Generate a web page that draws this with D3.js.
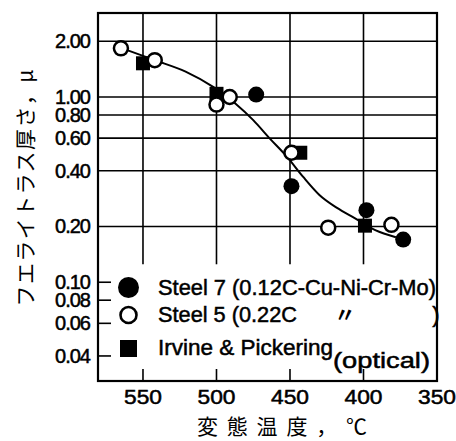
<!DOCTYPE html>
<html>
<meta charset="utf-8">
<style>
body { margin: 0; background: #fff; }
svg { display: block; }
.tick-label { font-family: 'Liberation Sans', Arial, sans-serif; font-size: 20px; fill: #000; stroke: #000; stroke-width: 0.5px; }
.legend-text { font-family: 'Liberation Sans', Arial, sans-serif; font-size: 22px; fill: #000; stroke: #000; stroke-width: 0.5px; }
.jp { font-family: 'Noto Sans CJK JP', sans-serif; font-size: 21px; fill: #000; }
</style>
<body>
<svg width="456" height="441"></svg>
<script src="https://d3js.org/d3.v7.min.js"></script>
<script>

// data: [temperature °C, lath thickness μ]
var tempTicks = [550, 500, 450, 400, 350];
var thickTicks = [2.00, 1.00, 0.80, 0.60, 0.40, 0.20, 0.10, 0.08, 0.06, 0.04];
var fullGrid = [2.00, 1.00, 0.80, 0.60, 0.40, 0.20];

var steel7 = [[473, 1.03], [449, 0.33], [398, 0.245], [373, 0.17]];
var steel5 = [[565, 1.83], [542, 1.58], [500, 0.91], [491, 1.00], [449, 0.50], [424, 0.197], [381, 0.204]];
var irvine = [[550, 1.52], [500, 1.04], [443, 0.50], [399, 0.202]];

var fitCurve = [[565, 1.84], [542, 1.58], [521, 1.37], [502, 1.13], [487, 0.92], [475, 0.75],
                [464, 0.60], [452, 0.475], [441, 0.37], [430, 0.296], [418, 0.252], [406, 0.222],
                [392, 0.191], [378, 0.175]];

var legendItems = ["Steel 7 (0.12C-Cu-Ni-Cr-Mo)", "Steel 5 (0.22C", "Irvine & Pickering"];

var svg = d3.select("svg"),
    margin = {top: 13, right: 19, bottom: 60, left: 98},
    width = +svg.attr("width") - margin.left - margin.right,
    height = +svg.attr("height") - margin.top - margin.bottom;

var x = d3.scaleLinear().domain([580.6, 350]).range([0, width]);
var y = d3.scaleLog().domain([0.0293, 2.84]).range([height, 0]);
var gridStop = 0.125;

var g = svg.append("g")
    .attr("transform", "translate(" + margin.left + "," + margin.top + ")");

// horizontal grid lines (upper part) and short ticks (legend part)
g.selectAll(".hgrid")
    .data(thickTicks)
  .enter().append("line")
    .attr("x1", 0)
    .attr("x2", function(d) { return fullGrid.indexOf(d) >= 0 ? width : 13; })
    .attr("y1", function(d) { return y(d); })
    .attr("y2", function(d) { return y(d); })
    .attr("stroke", "#000")
    .attr("stroke-width", 1.6);

// vertical grid lines down to the legend, and short ticks at the bottom
var vt = tempTicks.filter(function(d) { return d !== 350; });
g.selectAll(".vgrid")
    .data(vt)
  .enter().append("line")
    .attr("x1", function(d) { return x(d); })
    .attr("x2", function(d) { return x(d); })
    .attr("y1", 0)
    .attr("y2", y(gridStop))
    .attr("stroke", "#000")
    .attr("stroke-width", 1.6);

g.selectAll(".vtick")
    .data(vt)
  .enter().append("line")
    .attr("x1", function(d) { return x(d); })
    .attr("x2", function(d) { return x(d); })
    .attr("y1", height - 12)
    .attr("y2", height)
    .attr("stroke", "#000")
    .attr("stroke-width", 1.6);

// frame
g.append("rect")
    .attr("width", width)
    .attr("height", height)
    .attr("fill", "none")
    .attr("stroke", "#000")
    .attr("stroke-width", 2.2);

// tick labels
g.selectAll(".xlab")
    .data(tempTicks)
  .enter().append("text")
    .attr("class", "tick-label")
    .attr("x", function(d) { return x(d); })
    .attr("y", height + 23)
    .attr("text-anchor", "middle")
    .attr("textLength", 38)
    .attr("lengthAdjust", "spacingAndGlyphs")
    .text(function(d) { return d; });

g.selectAll(".ylab")
    .data(thickTicks)
  .enter().append("text")
    .attr("class", "tick-label")
    .attr("x", -8)
    .attr("y", function(d) { return y(d) + 7; })
    .attr("text-anchor", "end")
    .attr("letter-spacing", "-1")
    .text(function(d) { return d.toFixed(2); });

// fitted curve
var line = d3.line()
    .curve(d3.curveMonotoneX)
    .x(function(d) { return x(d[0]); })
    .y(function(d) { return y(d[1]); });

g.append("path")
    .datum(fitCurve)
    .attr("d", line)
    .attr("fill", "none")
    .attr("stroke", "#000")
    .attr("stroke-width", 2);

// markers
g.selectAll(".sq")
    .data(irvine)
  .enter().append("rect")
    .attr("x", function(d) { return x(d[0]) - 7; })
    .attr("y", function(d) { return y(d[1]) - 7; })
    .attr("width", 14)
    .attr("height", 14)
    .attr("fill", "#000");

g.selectAll(".s7")
    .data(steel7)
  .enter().append("circle")
    .attr("cx", function(d) { return x(d[0]); })
    .attr("cy", function(d) { return y(d[1]); })
    .attr("r", 8)
    .attr("fill", "#000");

g.selectAll(".s5")
    .data(steel5)
  .enter().append("circle")
    .attr("cx", function(d) { return x(d[0]); })
    .attr("cy", function(d) { return y(d[1]); })
    .attr("r", 7)
    .attr("fill", "#fff")
    .attr("stroke", "#000")
    .attr("stroke-width", 2.5);

// legend
var lg = svg.append("g");
lg.append("circle").attr("cx", 128.5).attr("cy", 287.5).attr("r", 10.5).attr("fill", "#000");
lg.append("circle").attr("cx", 128.5).attr("cy", 315).attr("r", 8).attr("fill", "#fff")
    .attr("stroke", "#000").attr("stroke-width", 2.6);
lg.append("rect").attr("x", 120).attr("y", 340).attr("width", 17).attr("height", 17).attr("fill", "#000");

var lens = [278, 139, 175];
var bases = [295, 322, 355];
legendItems.forEach(function(t, i) {
    lg.append("text")
        .attr("class", "legend-text")
        .attr("x", 158)
        .attr("y", bases[i])
        .attr("textLength", lens[i])
        .attr("lengthAdjust", "spacingAndGlyphs")
        .text(t);
});
lg.append("text").attr("class", "jp").attr("x", 345).attr("y", 322)
    .attr("text-anchor", "middle").attr("font-size", "15px").attr("font-weight", "bold").text("〃");
lg.append("text").attr("class", "legend-text").attr("x", 436).attr("y", 322)
    .attr("text-anchor", "middle").text(")");
lg.append("text").attr("class", "legend-text").attr("x", 333).attr("y", 368)
    .attr("textLength", 97).attr("lengthAdjust", "spacingAndGlyphs").text("(optical)");

// axis titles
svg.append("text")
    .attr("class", "jp")
    .attr("x", 197)
    .attr("y", 434)
    .attr("textLength", 170)
    .attr("lengthAdjust", "spacing")
    .text("変態温度，℃");

svg.append("text")
    .attr("class", "jp")
    .attr("transform", "translate(33,188) rotate(-90)")
    .attr("text-anchor", "middle")
    .attr("textLength", 237)
    .attr("lengthAdjust", "spacing")
    .text("フエライトラス厚さ，μ");

</script>
</body>
</html>
